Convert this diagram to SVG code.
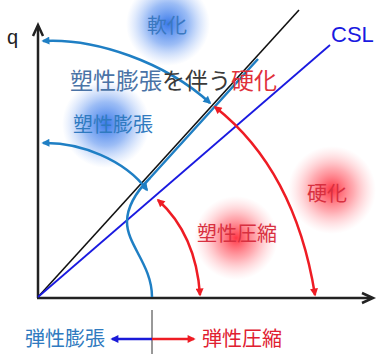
<svg xmlns="http://www.w3.org/2000/svg" width="377" height="354" viewBox="0 0 377 354">
<defs>
<style>
.jp{font-family:"Noto Sans CJK JP","Noto Sans CJK SC",sans-serif;}
.ax{stroke:#222;stroke-width:2.5;fill:none;}
.bl{stroke:#1f7fc4;stroke-width:2.5;fill:none;}
.rd{stroke:#ee1c24;stroke-width:2.5;fill:none;}
</style>
<radialGradient id="gb"><stop offset="0" stop-color="#2f72e8" stop-opacity="0.95"/><stop offset="0.5" stop-color="#4a86ee" stop-opacity="0.55"/><stop offset="1" stop-color="#8ab0f5" stop-opacity="0"/></radialGradient>
<radialGradient id="gr"><stop offset="0" stop-color="#ff2a3a" stop-opacity="0.95"/><stop offset="0.5" stop-color="#ff5a66" stop-opacity="0.5"/><stop offset="1" stop-color="#ffa0a8" stop-opacity="0"/></radialGradient>
<marker id="ab" viewBox="0 0 10 10" refX="8" refY="5" markerWidth="9" markerHeight="8" markerUnits="userSpaceOnUse" orient="auto-start-reverse"><path d="M0,0 L10,5 L0,10 z" fill="#1f7fc4"/></marker>
<marker id="ar" viewBox="0 0 10 10" refX="8" refY="5" markerWidth="9" markerHeight="8" markerUnits="userSpaceOnUse" orient="auto-start-reverse"><path d="M0,0 L10,5 L0,10 z" fill="#ee1c24"/></marker>
<marker id="abb" viewBox="0 0 10 10" refX="8" refY="5" markerWidth="9" markerHeight="8" markerUnits="userSpaceOnUse" orient="auto"><path d="M0,0 L10,5 L0,10 z" fill="#1a1ad8"/></marker>
</defs>
<rect width="377" height="354" fill="#fff"/>
<g id="glows">
<circle cx="168" cy="24" r="42" fill="url(#gb)"/>
<circle cx="106" cy="124" r="44" fill="url(#gb)"/>
<circle cx="332" cy="190" r="44" fill="url(#gr)"/>
<circle cx="236" cy="238" r="42" fill="url(#gr)"/>
</g>
<g id="axes">
<line class="ax" x1="38" y1="298" x2="38" y2="26"/>
<polyline class="ax" points="33,36 38,25 43,36"/>
<line class="ax" x1="37" y1="298" x2="372" y2="298"/>
<polyline class="ax" points="362,293 373,298 362,303"/>
<text x="7" y="44" font-family="Liberation Sans,Arial,sans-serif" font-size="20" fill="#222">q</text>
</g>
<g id="lines">
<line x1="38" y1="297" x2="299" y2="10" stroke="#111" stroke-width="1.6"/>
<line x1="38" y1="297" x2="330" y2="45" stroke="#1a1ae0" stroke-width="1.8"/>
<text x="331" y="42" font-family="Liberation Sans,Arial,sans-serif" font-size="22" fill="#1a1ae0">CSL</text>
</g>
<g id="connectors">
<path class="bl" d="M152,297 C152,265 127,245 127,222 C127,205 138,190 150,178 L258,59"/>
<path class="bl" d="M43,41 C95,38 165,62 210,103" marker-start="url(#ab)" marker-end="url(#ab)"/>
<path class="bl" d="M43,143 C80,142 125,160 147,190" marker-start="url(#ab)" marker-end="url(#ab)"/>
<path class="rd" d="M215,107 Q295,170 315,295" marker-start="url(#ar)" marker-end="url(#ar)"/>
<path class="rd" d="M158,200 C180,220 197,250 200,295" marker-start="url(#ar)" marker-end="url(#ar)"/>
<line x1="152" y1="310" x2="152" y2="354" stroke="#333" stroke-width="1"/>
<line x1="152" y1="339" x2="112" y2="339" stroke="#1a1ad8" stroke-width="2.5" marker-end="url(#abb)"/>
<line x1="152" y1="339" x2="194" y2="339" stroke="#ee1c24" stroke-width="2.5" marker-end="url(#ar)"/>
</g>
<g id="labels" class="jp">
<text x="147" y="33" font-size="20" fill="#3a78c0">軟化</text>
<text x="70" y="89" font-size="23"><tspan fill="#4a73a6">塑性膨張</tspan><tspan fill="#3a3a3a">を伴う</tspan><tspan fill="#e0303a">硬化</tspan></text>
<text x="73" y="132" font-size="20" fill="#2f7ac0">塑性膨張</text>
<text x="307" y="201" font-size="20" fill="#d83040">硬化</text>
<text x="197" y="241" font-size="20" fill="#d83040">塑性圧縮</text>
<text x="25" y="346" font-size="20" fill="#2f7ac0">弾性膨張</text>
<text x="202" y="346" font-size="20" fill="#e02030">弾性圧縮</text>
</g>
</svg>
